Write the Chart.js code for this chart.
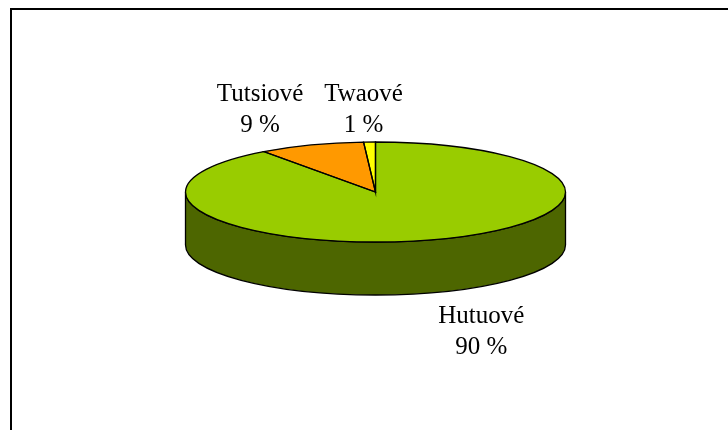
<!DOCTYPE html>
<html lang="cs">
<head>
  <meta charset="UTF-8">
  <title>Etnické složení</title>
  <script src="https://cdn.jsdelivr.net/npm/chart.js"></script>
  <style>
    body { margin: 0; background: #fff; }
    canvas { display: block; }
  </style>
</head>
<body>
  <canvas id="myChart" width="728" height="430"></canvas>

  <script>
    // data
    var groups = ['Hutuové', 'Tutsiové', 'Twaové'];
    var shares = [90, 9, 1];

    // colours of the top face and of the wall
    var topColors = ['#99cc00', '#ff9900', '#ffff00'];
    var sideColors = ['#4d6600', '#804c00', '#808000'];

    // label shift from the rim point in the middle of each slice
    var labelShift = [[47, 99], [-51, -28.5], [-6, -25.5]];

    var tilt = 50 / 190;  // vertical squash of the pie
    var depth = 53;       // height of the wall
    var pieY = 192;       // screen y of the pie centre
    var lineGap = 31;     // distance between the two label lines

    function frame(chart) {
      var arc = chart.getDatasetMeta(0).data[0];
      return { x: arc.x, y: arc.y, rx: arc.outerRadius, ry: arc.outerRadius * tilt };
    }

    var pie3d = {
      id: 'pie3d',
      beforeDraw: function(chart) {
        // the frame round the chart, cut off at right and bottom
        var ctx = chart.ctx;
        ctx.save();
        ctx.strokeStyle = '#000';
        ctx.lineWidth = 2;
        ctx.beginPath();
        ctx.moveTo(11, 440);
        ctx.lineTo(11, 9);
        ctx.lineTo(740, 9);
        ctx.stroke();
        ctx.restore();
      },
      beforeDatasetsDraw: function(chart) {
        var ctx = chart.ctx, f = frame(chart);
        var arcs = chart.getDatasetMeta(0).data;
        // wall: only the front half (angles 0..PI) is visible
        ctx.save();
        ctx.lineWidth = 1.3;
        ctx.strokeStyle = '#000';
        arcs.forEach(function(a, i) {
          [-2 * Math.PI, 0, 2 * Math.PI].forEach(function(k) {
            var s = Math.max(a.startAngle, k), e = Math.min(a.endAngle, k + Math.PI);
            if (e <= s) return;
            ctx.beginPath();
            ctx.ellipse(f.x, pieY, f.rx, f.ry, 0, s, e);
            ctx.ellipse(f.x, pieY + depth, f.rx, f.ry, 0, e, s, true);
            ctx.closePath();
            ctx.fillStyle = sideColors[i];
            ctx.fill();
            ctx.stroke();
          });
        });
        ctx.restore();
        // squash the top face drawn by Chart.js
        ctx.save();
        ctx.translate(0, pieY);
        ctx.scale(1, tilt);
        ctx.translate(0, -f.y);
      },
      afterDatasetsDraw: function(chart) {
        var ctx = chart.ctx, f = frame(chart);
        ctx.restore();
        var arcs = chart.getDatasetMeta(0).data;
        ctx.save();
        ctx.lineWidth = 1.3;
        ctx.strokeStyle = '#000';
        arcs.forEach(function(a) {
          ctx.beginPath();
          ctx.moveTo(f.x, pieY);
          ctx.ellipse(f.x, pieY, f.rx, f.ry, 0, a.startAngle, a.endAngle);
          ctx.closePath();
          ctx.stroke();
        });
        // labels: name above, share below
        ctx.fillStyle = '#000';
        ctx.font = '25px "Liberation Serif", "Times New Roman", serif';
        ctx.textAlign = 'center';
        ctx.textBaseline = 'alphabetic';
        arcs.forEach(function(a, i) {
          var mid = (a.startAngle + a.endAngle) / 2;
          var lx = f.x + f.rx * Math.cos(mid) + labelShift[i][0];
          var ly = pieY + f.ry * Math.sin(mid) + labelShift[i][1];
          ctx.fillText(groups[i], lx, ly - lineGap / 2);
          ctx.fillText(shares[i] + ' %', lx, ly + lineGap / 2);
        });
        ctx.restore();
      }
    };

    var ctx = document.getElementById('myChart').getContext('2d');
    var myChart = new Chart(ctx, {
      type: 'pie',
      data: {
        labels: groups,
        datasets: [{
          data: shares,
          backgroundColor: topColors,
          borderWidth: 0,
          hoverOffset: 0
        }]
      },
      options: {
        responsive: false,
        animation: false,
        events: [],
        layout: { padding: { left: 185, right: 162, top: 25, bottom: 25 } },
        plugins: {
          legend: { display: false },
          tooltip: { enabled: false }
        }
      },
      plugins: [pie3d]
    });
  </script>
</body>
</html>
